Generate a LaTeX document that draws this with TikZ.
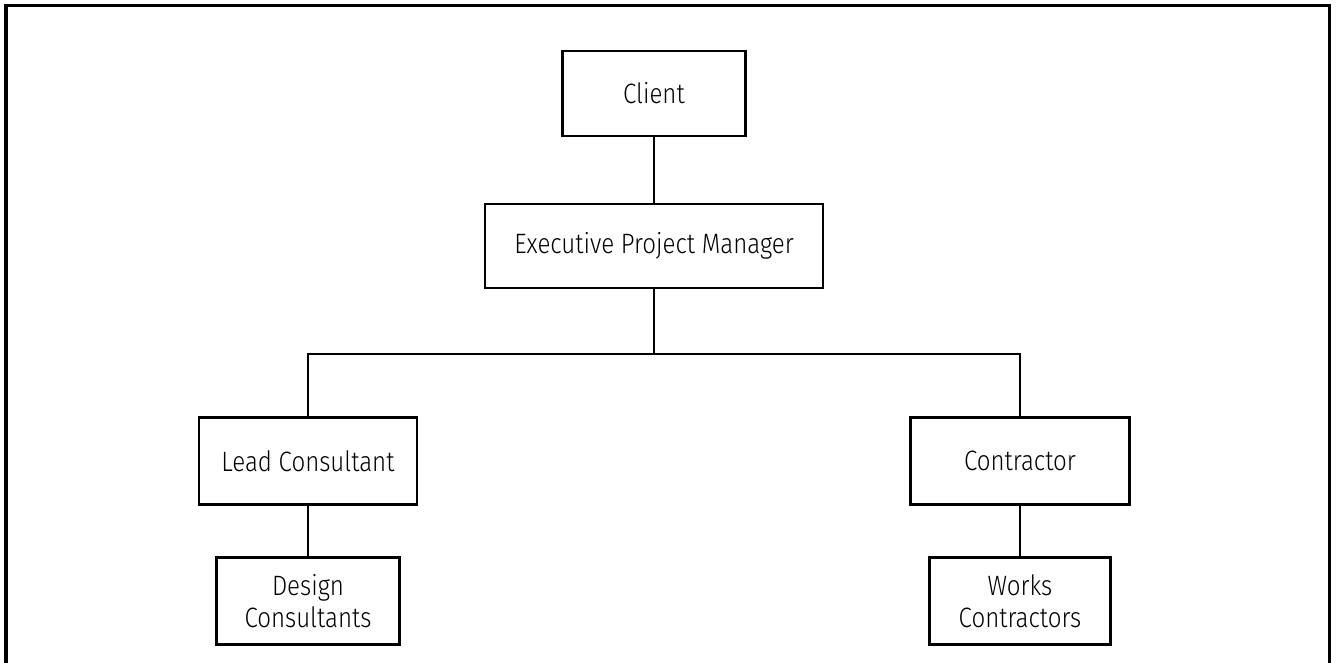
\documentclass[tikz,border=0pt]{standalone}
\usepackage{fontspec}
\setmainfont{Fira Sans Light}[FakeStretch=0.86]
\begin{document}
\begin{tikzpicture}[x=0.75pt,y=-0.75pt,
  box/.style={draw, line width=2.1pt, inner sep=0pt, align=center,
    font=\fontsize{21}{24}\selectfont},
  conn/.style={line width=1pt},
  frame/.style={line width=2.3pt}]
\useasboundingbox (0,0) rectangle (1336,663);
\draw[frame] (6,664) -- (6,5.5) -- (1329.5,5.5) -- (1329.5,664);
\node[box, minimum width=182.5*0.75pt, minimum height=85*0.75pt] (client) at (654,93.5) {Client};
\node[box, minimum width=338*0.75pt, minimum height=84*0.75pt] (epm) at (654,246) {Executive Project Manager};
\node[box, minimum width=218*0.75pt, minimum height=87*0.75pt] (lead) at (308,461) {Lead Consultant};
\node[box, minimum width=219*0.75pt, minimum height=87*0.75pt] (ctr) at (1020,461) {Contractor};
\node[box, minimum width=183*0.75pt, minimum height=87*0.75pt] (design) at (308,601) {Design\\Consultants};
\node[box, minimum width=181*0.75pt, minimum height=87*0.75pt] (works) at (1020,601) {Works\\Contractors};
\coordinate (j) at (654,354);
\draw[conn] (client) -- (epm);
\draw[conn] (epm) -- (j);
\draw[conn] (lead.north) |- (j) -| (ctr.north);
\draw[conn] (lead) -- (design);
\draw[conn] (ctr) -- (works);
\end{tikzpicture}
\end{document}
